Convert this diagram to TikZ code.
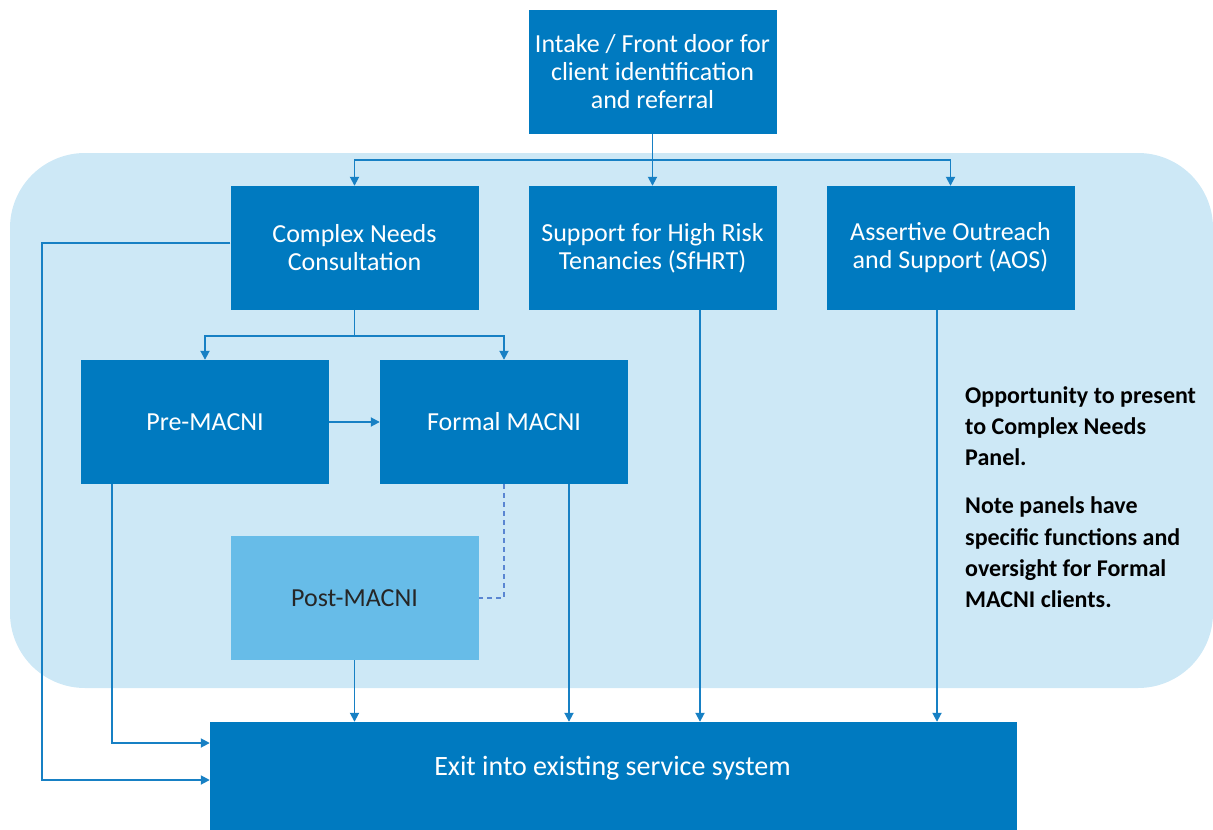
\documentclass[tikz,border=0pt]{standalone}
\usepackage{fontspec}
\setmainfont{Carlito}
\usetikzlibrary{arrows.meta}
\definecolor{dblue}{HTML}{007AC0}
\definecolor{lblue}{HTML}{CDE8F6}
\definecolor{pblue}{HTML}{67BCE8}
\definecolor{lineblue}{HTML}{1780C4}
\definecolor{dashblue}{HTML}{5A86D2}
\begin{document}
\begin{tikzpicture}[x=1pt,y=-1pt,
  box/.style={draw=none,fill=dblue,text=white,minimum width=248pt,minimum height=124pt,inner sep=0pt,align=center,font=\fontsize{26}{28}\selectfont},
  conn/.style={draw=lineblue,line width=1.8pt,-{Triangle[length=9pt,width=9pt]}},
  plain/.style={draw=lineblue,line width=1.8pt},
  dashc/.style={draw=dashblue,line width=1.8pt,dash pattern=on 5pt off 4pt}]
\useasboundingbox (0,0) rectangle (1213,830);
\fill[lblue,rounded corners=75pt] (10,153) rectangle (1213,688);
\node[box] (intake) at (652.5,72) {Intake / Front door for\\client identification\\and referral};
\node[box] (cnc) at (354.5,248) {Complex Needs\\Consultation};
\node[box] (sfhrt) at (652.5,248) {Support for High Risk\\Tenancies (SfHRT)};
\node[box] (aos) at (950.5,248) {Assertive Outreach\\and Support (AOS)};
\node[box] (pre) at (205,422) {Pre-MACNI};
\node[box] (formal) at (504,422) {Formal MACNI};
\node[box,fill=pblue,text=black!85] (post) at (354.5,598) {Post-MACNI};
\fill[dblue] (210,722) rectangle (1017,830);
\node[draw=none,minimum width=807pt,minimum height=108pt,inner sep=0pt] (exit) at (613.5,776) {};
\node[text=white,font=\fontsize{28}{30}\selectfont] (exitlabel) at (612.5,768) {Exit into existing service system};
\node[anchor=north west,align=left,font=\fontsize{24}{31.3}\selectfont\bfseries,text=black,inner sep=0pt] (note) at (965,386)
 {Opportunity to present\\to Complex Needs\\Panel.\\[17pt]Note panels have\\specific functions and\\oversight for Formal\\MACNI clients.};
% intake to three
\coordinate (top) at (652.5,160);
\draw[plain] (intake.south) -- (top);
\draw[conn] (top) -| (cnc.north);
\draw[conn] (top) -- (sfhrt.north);
\draw[conn] (top) -| (aos.north);
% cnc to pre/formal
\coordinate (mid) at (354.5,336);
\draw[plain] (cnc.south) -- (mid);
\draw[conn] (mid) -| (pre.north);
\draw[conn] (mid) -| (formal.north);
\draw[conn] (pre.east) -- (formal.west);
% cnc left to exit
\draw[conn] (cnc.west |- 0,243) -| (42,780) -- (exit.west |- 0,780);
\draw[conn] (pre.south -| 112,0) |- (exit.west |- 0,743);
% dashed
\draw[dashc] (formal.south) |- (post.east);
% down to exit
\draw[conn] (post.south) -- (exit.north -| post.south);
\draw[conn] (formal.south -| 569,0) -- (exit.north -| 569,0);
\draw[conn] (sfhrt.south -| 700,0) -- (exit.north -| 700,0);
\draw[conn] (aos.south -| 937,0) -- (exit.north -| 937,0);
\end{tikzpicture}
\end{document}
